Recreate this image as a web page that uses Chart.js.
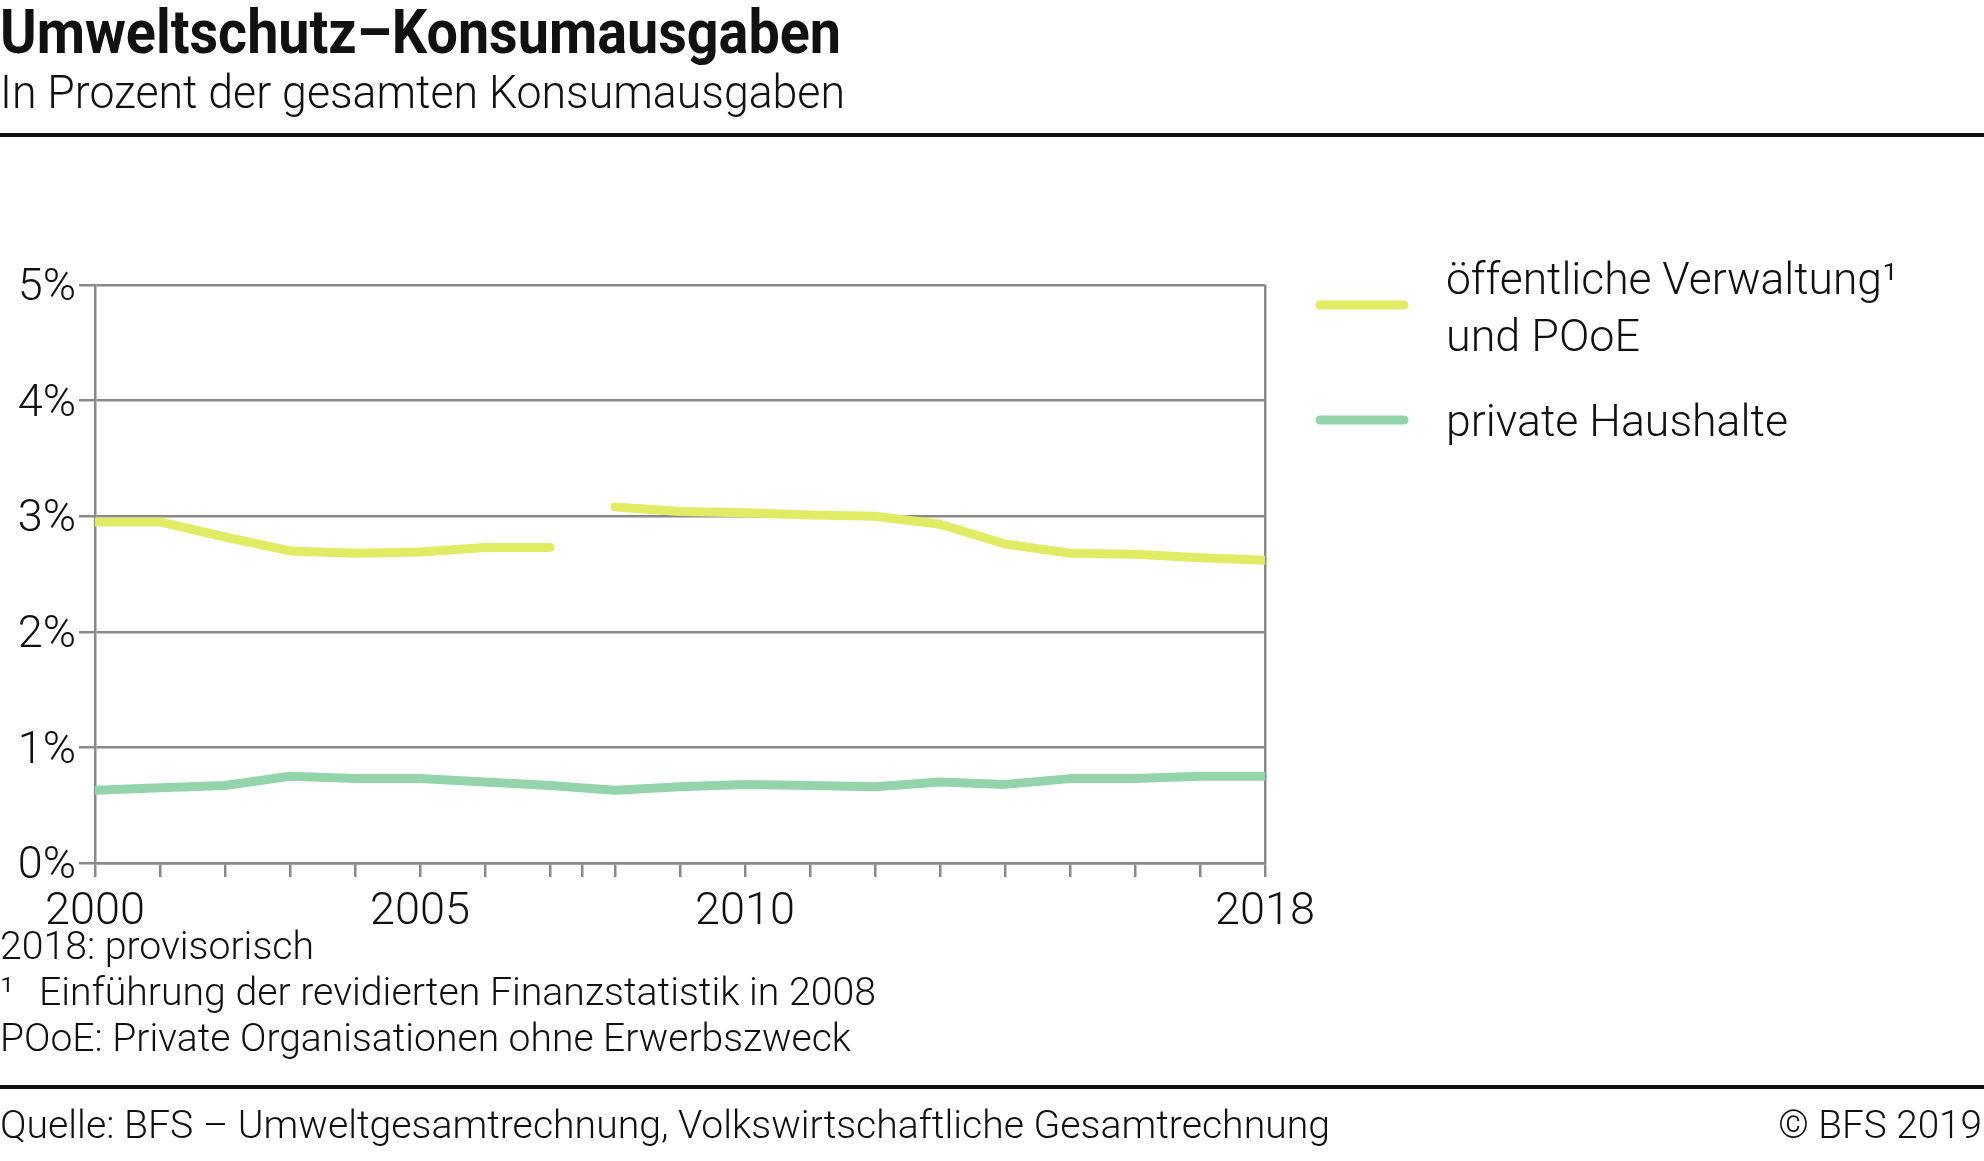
<!DOCTYPE html>
<html>
<head>
<meta charset="utf-8">
<script src="https://cdn.jsdelivr.net/npm/chart.js@4/dist/chart.umd.min.js"></script>
<style>
html, body { margin: 0; padding: 0; background: #fff; }
#wrap { position: relative; width: 1984px; height: 1161px; overflow: hidden; }
#chart { position: absolute; left: 0; top: 0; }
#overlay { position: absolute; left: 0; top: 0; }
text { font-family: Roboto, "Noto Sans", sans-serif; fill: #111; }
</style>
</head>
<body>
<div id="wrap">
<canvas id="chart" width="1984" height="1161"></canvas>
<svg id="overlay" width="1984" height="1161">
  <text x="0" y="53" font-size="61" font-weight="700" textLength="841" lengthAdjust="spacingAndGlyphs">Umweltschutz–Konsumausgaben</text>
  <text x="0" y="108" font-size="46" font-weight="300" textLength="845" lengthAdjust="spacingAndGlyphs">In Prozent der gesamten Konsumausgaben</text>
  <rect x="0" y="133" width="1984" height="4" fill="#111"></rect>

  <line x1="1320" y1="305" x2="1404" y2="305" stroke="#e2eb64" stroke-width="9" stroke-linecap="round"></line>
  <line x1="1320" y1="420" x2="1404" y2="420" stroke="#94d4aa" stroke-width="9" stroke-linecap="round"></line>
  <text x="1446" y="294" font-size="44" font-weight="300" textLength="452" lengthAdjust="spacingAndGlyphs">öffentliche Verwaltung¹</text>
  <text x="1446" y="351" font-size="44" font-weight="300" textLength="194" lengthAdjust="spacingAndGlyphs">und POoE</text>
  <text x="1446" y="436" font-size="44" font-weight="300" textLength="342" lengthAdjust="spacingAndGlyphs">private Haushalte</text>

  <text x="0" y="959" font-size="39" font-weight="300" textLength="314" lengthAdjust="spacingAndGlyphs">2018: provisorisch</text>
  <text x="0" y="1005" font-size="39" font-weight="300">¹</text>
  <text x="39" y="1005" font-size="39" font-weight="300" textLength="837" lengthAdjust="spacingAndGlyphs">Einführung der revidierten Finanzstatistik in 2008</text>
  <text x="0" y="1051" font-size="39" font-weight="300" textLength="851" lengthAdjust="spacingAndGlyphs">POoE: Private Organisationen ohne Erwerbszweck</text>

  <rect x="0" y="1085" width="1984" height="4" fill="#111"></rect>
  <text x="0" y="1138" font-size="39" font-weight="300" textLength="1330" lengthAdjust="spacingAndGlyphs">Quelle: BFS – Umweltgesamtrechnung, Volkswirtschaftliche Gesamtrechnung</text>
  <text x="1778" y="1138" font-size="39" font-weight="300" textLength="204" lengthAdjust="spacingAndGlyphs">© BFS 2019</text>
</svg>
</div>
<script>
// Werte (Prozent der gesamten Konsumausgaben)
const years = [2000, 2001, 2002, 2003, 2004, 2005, 2006, 2007, 2008, 2009,
  2010, 2011, 2012, 2013, 2014, 2015, 2016, 2017, 2018];
const oeffentlich = [2.95, 2.95, 2.82, 2.70, 2.68, 2.69, 2.73, 2.73, 3.08, 3.04,
  3.03, 3.01, 3.00, 2.93, 2.76, 2.68, 2.67, 2.64, 2.62];
const privat = [0.63, 0.65, 0.67, 0.75, 0.73, 0.73, 0.70, 0.67, 0.63, 0.66,
  0.68, 0.67, 0.66, 0.70, 0.68, 0.73, 0.73, 0.75, 0.75];
const yearLabels = [2000, 2005, 2010, 2018];
const breakTicks = [2007.5]; // Bruch in der Reihe (Finanzstatistik ab 2008)
const breakAfter = 2007;
const yTicks = [0, 1, 2, 3, 4, 5];

const gridGray = '#898989';
const tickFont = { family: 'Roboto', size: 45, weight: 300 };

function toPoints(values) {
  return years.map((y, i) => ({ x: y, y: values[i] }));
}

new Chart(document.getElementById('chart'), {
  type: 'line',
  data: {
    datasets: [{
      label: 'öffentliche Verwaltung und POoE',
      data: toPoints(oeffentlich),
      borderColor: '#e2eb64',
      borderWidth: 9,
      borderCapStyle: 'round',
      borderJoinStyle: 'round',
      pointRadius: 0,
      tension: 0,
      clip: 0,
      segment: {
        borderColor: ctx => ctx.p0.parsed.x === breakAfter ? 'rgba(0,0,0,0)' : undefined
      }
    }, {
      label: 'private Haushalte',
      data: toPoints(privat),
      borderColor: '#94d4aa',
      borderWidth: 9,
      borderCapStyle: 'round',
      borderJoinStyle: 'round',
      pointRadius: 0,
      tension: 0,
      clip: 0
    }]
  },
  options: {
    responsive: false,
    animation: false,
    devicePixelRatio: 1,
    layout: { padding: { left: 0, top: 285, right: 719, bottom: 228 } },
    plugins: { legend: { display: false }, tooltip: { enabled: false } },
    scales: {
      x: {
        type: 'linear',
        min: years[0],
        max: years[years.length - 1],
        afterBuildTicks: scale => {
          scale.ticks = years.concat(breakTicks).sort((a, b) => a - b).map(v => ({ value: v }));
        },
        afterFit: scale => { scale.height = 70; },
        grid: {
          drawOnChartArea: true,
          color: ctx => (ctx.tick && ctx.tick.value === years[years.length - 1]) ? gridGray : 'rgba(0,0,0,0)',
          tickColor: gridGray,
          lineWidth: 2.5,
          tickLength: 14
        },
        border: { display: true, color: gridGray, width: 2.5 },
        ticks: {
          autoSkip: false,
          maxRotation: 0,
          color: '#111',
          font: tickFont,
          padding: 9,
          callback: v => yearLabels.includes(v) ? String(v) : ''
        }
      },
      y: {
        min: 0,
        max: 5,
        afterBuildTicks: scale => { scale.ticks = yTicks.map(v => ({ value: v })); },
        afterFit: scale => { scale.width = 95; },
        grid: {
          color: gridGray,
          lineWidth: 2.5,
          tickLength: 16
        },
        border: { display: true, color: gridGray, width: 2.5 },
        ticks: {
          color: '#111',
          font: tickFont,
          padding: 3,
          labelOffset: 4,
          callback: v => v + '%'
        }
      }
    }
  }
});
</script>
</body>
</html>
